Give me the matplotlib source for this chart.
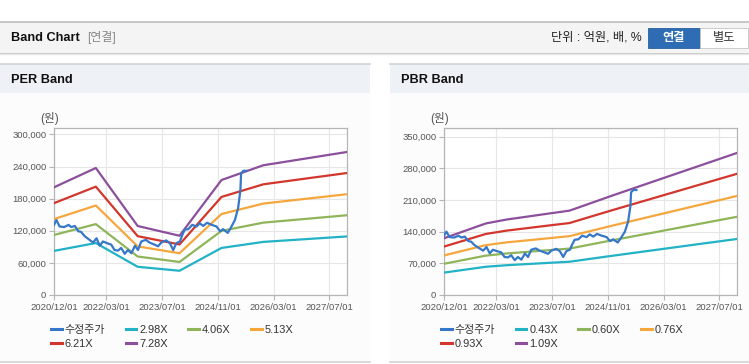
import matplotlib
matplotlib.use("Agg")
import matplotlib.pyplot as plt
import matplotlib.dates as mdates
from matplotlib.patches import Rectangle
from matplotlib.lines import Line2D
import pandas as pd

plt.rcParams['font.family'] = ['Liberation Sans', 'Noto Sans CJK KR', 'DejaVu Sans']

# ---- data ----
price_dates = [
    '2020-12-01', '2020-12-22', '2021-01-19', '2021-03-01', '2021-04-07', '2021-05-01',
    '2021-06-01', '2021-07-01', '2021-07-25', '2021-08-25', '2021-10-07', '2021-11-07',
    '2021-12-07', '2022-01-04', '2022-02-01', '2022-03-07', '2022-04-15', '2022-05-13',
    '2022-06-13', '2022-07-10', '2022-08-10', '2022-09-07', '2022-10-07', '2022-11-07',
    '2022-12-04', '2023-01-01', '2023-02-10', '2023-03-15', '2023-04-28', '2023-05-28',
    '2023-06-25', '2023-08-07', '2023-09-07', '2023-10-07', '2023-11-04', '2023-12-04',
    '2023-12-25', '2024-01-15', '2024-02-15', '2024-03-21', '2024-04-28', '2024-05-25',
    '2024-06-25', '2024-07-28', '2024-09-07', '2024-10-19', '2024-11-19', '2024-12-15',
    '2025-01-25', '2025-02-19', '2025-03-28', '2025-04-25', '2025-05-15', '2025-05-21',
    '2025-06-10', '2025-07-07',
]
price = [
    131000, 140000, 128000, 127000, 131000, 127000,
    129000, 119000, 118000, 110000, 103000, 98000,
    106000, 92000, 100000, 97000, 94000, 84000,
    83000, 88000, 77000, 84000, 78000, 92000,
    84000, 100000, 103000, 98000, 94000, 91000,
    98000, 102000, 97000, 84000, 97000, 100000,
    112000, 122000, 123000, 131000, 128000, 134000,
    129000, 135000, 131000, 128000, 119000, 123000,
    116000, 125000, 140000, 162000, 196000, 227000,
    232000, 232000,
]

per_dates = ['2020-12-01', '2021-12-01', '2022-12-01', '2023-12-01',
             '2024-12-01', '2025-12-01', '2026-12-01', '2027-12-01']
per_labels = ['2.98X', '4.06X', '5.13X', '6.21X', '7.28X']
per_298 = [82400, 97100, 52700, 45300, 87900, 99200, 104300, 109400]
per_406 = [112200, 132400, 71900, 61700, 119800, 135200, 142100, 149000]
per_513 = [141800, 167200, 90800, 78000, 151300, 170800, 179600, 188300]
per_621 = [171600, 202400, 109900, 94400, 183200, 206800, 217400, 227900]
per_728 = [201200, 237300, 128900, 110700, 214800, 242400, 254800, 267200]

pbr_dates = ['2020-12-01', '2021-06-01', '2021-12-01', '2022-06-01', '2022-12-01',
             '2023-06-01', '2023-12-01', '2024-06-01', '2024-12-01', '2025-12-01',
             '2026-12-01', '2027-12-01']
pbr_labels = ['0.43X', '0.60X', '0.76X', '0.93X', '1.09X']
pbr_043 = [49500, 55900, 62400, 65800, 68400, 71000, 73500, 80000, 86400, 98900, 111400, 123800]
pbr_060 = [69000, 78000, 87000, 91800, 95400, 99000, 102600, 111600, 120600, 138000, 155400, 172800]
pbr_076 = [87400, 98800, 110200, 116300, 120800, 125400, 130000, 141400, 152800, 174800, 196800, 218900]
pbr_093 = [107000, 120900, 134900, 142300, 147900, 153500, 159000, 173000, 186900, 213900, 240900, 267800]
pbr_109 = [125400, 141700, 158100, 166800, 173300, 179900, 186400, 202700, 219100, 250700, 282300, 313900]

x_ticks = ['2020-12-01', '2022-03-01', '2023-07-01', '2024-11-01', '2026-03-01', '2027-07-01']
per_yticks = [0, 60000, 120000, 180000, 240000, 300000]
pbr_yticks = [0, 70000, 140000, 210000, 280000, 350000]

price_color = '#3577c8'
band_colors = ['#22b2c6', '#8fb55a', '#f5a73d', '#d2362c', '#8c4f9c']

W, H = 749, 364


def fx(x):
    return x / W


def fy(y):
    return 1 - y / H


fig = plt.figure(figsize=(W / 100, H / 100), dpi=100)
fig.patch.set_facecolor('white')


def rect(x0, y0, x1, y1, fc, ec='none', lw=0):
    fig.add_artist(Rectangle((fx(x0), fy(y1)), fx(x1) - fx(x0), fy(y0) - fy(y1),
                             transform=fig.transFigure, facecolor=fc, edgecolor=ec,
                             linewidth=lw, zorder=0))


def hline(x0, x1, y, color, lw=1):
    fig.add_artist(Line2D([fx(x0), fx(x1)], [fy(y), fy(y)], transform=fig.transFigure,
                          color=color, linewidth=lw, zorder=1))


# top header bar
rect(0, 22, W, 52, '#f4f4f4')
hline(0, W, 22, '#bdbdbd', 1.2)
hline(0, W, 52.5, '#c8c8c8', 1.0)
hline(0, W, 54, '#e6e6e6', 1.0)
fig.text(fx(11), fy(38), 'Band Chart', fontsize=9.2, fontweight='bold', color='#111111',
         va='center', ha='left')
fig.text(fx(87), fy(38), '[연결]', fontsize=8.6, color='#888888', va='center', ha='left')
fig.text(fx(642), fy(38), '단위 : 억원, 배, %', fontsize=8.8, color='#222222',
         va='center', ha='right')
rect(648, 28, 700, 48, '#2e6db4', ec='#27609f', lw=0.6)
fig.text(fx(674), fy(38), '연결', fontsize=8.8, fontweight='bold', color='white',
         va='center', ha='center')
rect(700, 28, 748, 48, '#ffffff', ec='#c4c4c4', lw=0.6)
fig.text(fx(724), fy(38), '별도', fontsize=8.8, color='#333333', va='center', ha='center')

# panels
for x0, x1, title in [(0, 370, 'PER Band'), (390, W, 'PBR Band')]:
    rect(x0, 93, x1, 361, '#fcfcfc')
    rect(x0, 64, x1, 93, '#eef1f6')
    hline(x0, x1, 64, '#d2d2d2', 1.2)
    hline(x0, x1, 361.5, '#d2d2d2', 1.2)
    fig.text(fx(x0 + 11), fy(80), title, fontsize=9.2, fontweight='bold', color='#111111',
             va='center', ha='left')


def draw_chart(ax_left, dates, bands, labels, yticks, ytop, legend_x):
    ax = fig.add_axes([fx(ax_left), fy(295), fx(293), 167 / H])
    ax.set_facecolor('white')
    pd_price = pd.to_datetime(price_dates)
    pd_band = pd.to_datetime(dates)
    handles = []
    h, = ax.plot(pd_price, price, color=price_color, lw=1.6, zorder=5, label='수정주가')
    handles.append(h)
    for vals, lab, col in zip(bands, labels, band_colors):
        h, = ax.plot(pd_band, vals, color=col, lw=1.6, zorder=3, label=lab)
        handles.append(h)
    ax.set_xlim(pd.Timestamp('2020-12-01'), pd.Timestamp('2027-12-01'))
    ax.set_ylim(0, ytop)
    ax.set_xticks(pd.to_datetime(x_ticks))
    ax.xaxis.set_major_formatter(mdates.DateFormatter('%Y/%m/%d'))
    ax.set_yticks(yticks)
    ax.set_yticklabels([f'{v:,}' for v in yticks])
    ax.grid(True, color='#e6e6e6', lw=0.8)
    ax.set_axisbelow(True)
    for s in ax.spines.values():
        s.set_color('#b5b5b5')
        s.set_linewidth(0.9)
    ax.tick_params(axis='both', labelsize=6.8, labelcolor='#555555', color='#b5b5b5',
                   length=3.5, width=0.8, pad=2)
    ax.text(-4 / 293, 1 + 10 / 167, '(원)', transform=ax.transAxes, fontsize=8.4,
            color='#555555', ha='center', va='center')
    # legend: first row 4 items, second row 2 items
    order = [0, 4, 1, 5, 2, 3]
    ax.legend([handles[i] for i in order], [handles[i].get_label() for i in order],
              ncol=4, loc='upper left', bbox_to_anchor=(fx(legend_x), fy(325)),
              bbox_transform=fig.transFigure, frameon=False, fontsize=7.9,
              handlelength=1.0, handletextpad=0.25, columnspacing=1.85,
              labelspacing=0.35, borderpad=0, borderaxespad=0, labelcolor='#333333')
    for line in ax.get_legend().get_lines():
        line.set_linewidth(2.2)
    return ax


draw_chart(54, per_dates, [per_298, per_406, per_513, per_621, per_728], per_labels,
           per_yticks, 312000, 51)
draw_chart(444, pbr_dates, [pbr_043, pbr_060, pbr_076, pbr_093, pbr_109], pbr_labels,
           pbr_yticks, 369000, 441)

fig.savefig('out.png', dpi=100, facecolor='white')
